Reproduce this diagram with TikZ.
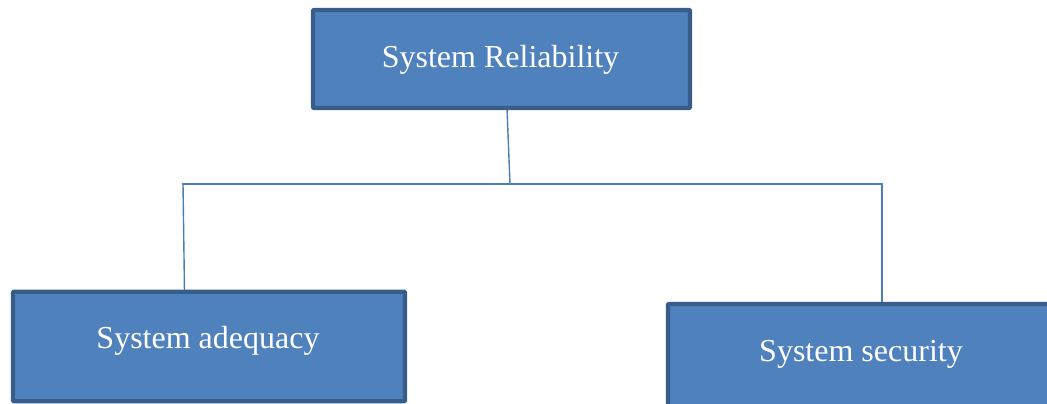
\documentclass[tikz,border=0pt]{standalone}
\usepackage{fontspec}
\setmainfont{Liberation Serif}
\usetikzlibrary{backgrounds}
\definecolor{boxfill}{HTML}{4F81BD}
\definecolor{boxline}{HTML}{385D8A}
\definecolor{conn}{HTML}{4A7EBB}
\tikzset{
  blockbox/.style={draw=boxline, fill=boxfill, line width=4.3pt, rectangle, rounded corners=1pt, outer sep=0pt, inner sep=0pt},
  blocktext/.style={text=white, anchor=base, inner sep=0pt},
  connector/.style={draw=conn, line width=1.4pt},
}
\begin{document}
\begin{tikzpicture}[x=1pt,y=-1pt]
\useasboundingbox (0,0) rectangle (1047,404);
\clip (0,0) rectangle (1047,404);
% boxes
\node[blockbox, minimum width=377pt, minimum height=98pt] (top) at (501.5,59) {};
\node[blockbox, minimum width=392pt, minimum height=109.5pt] (left) at (209,346.5) {};
\node[blockbox, minimum width=386pt, minimum height=110pt] (right) at (861,359) {};
% texts
\node[blocktext, font=\fontsize{32}{38}\selectfont] (toptext) at (500.5,68) {System Reliability};
\node[blocktext, font=\fontsize{32}{38}\selectfont] (lefttext) at (208,348) {System adequacy};
\node[blocktext, font=\fontsize{32}{38}\selectfont] (righttext) at (861,361) {System security};
% connectors
\coordinate (j) at (510,184);
\coordinate (jl) at (183,184);
\coordinate (jr) at (882,184);
\begin{scope}[on background layer]
\draw[connector] ([xshift=5.5pt]top.south) -- (j);
\draw[connector, line cap=rect] (jl) -- (jr);
\draw[connector] (jl) -- ([xshift=-24.5pt]left.north);
\draw[connector] (jr) -- (right.north -| jr);
\end{scope}
\end{tikzpicture}
\end{document}
